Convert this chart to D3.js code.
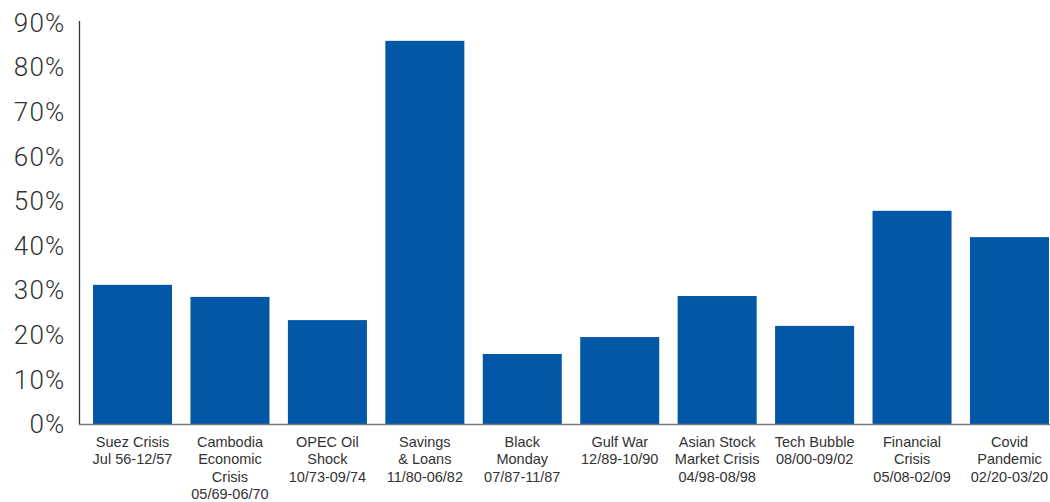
<!DOCTYPE html>
<html>
<head>
<meta charset="utf-8">
<script src="https://cdn.jsdelivr.net/npm/d3@7"></script>
<style>
  body { margin: 0; background: #fff; }
  svg { display: block; }
</style>
</head>
<body>
<svg id="chart" width="1050" height="502"></svg>
<script>
let categories = [
    ["Suez Crisis", "Jul 56-12/57"],
    ["Cambodia", "Economic", "Crisis", "05/69-06/70"],
    ["OPEC Oil", "Shock", "10/73-09/74"],
    ["Savings", "& Loans", "11/80-06/82"],
    ["Black", "Monday", "07/87-11/87"],
    ["Gulf War", "12/89-10/90"],
    ["Asian Stock", "Market Crisis", "04/98-08/98"],
    ["Tech Bubble", "08/00-09/02"],
    ["Financial", "Crisis", "05/08-02/09"],
    ["Covid", "Pandemic", "02/20-03/20"]
]
let values = [31.3, 28.6, 23.4, 86.0, 15.8, 19.6, 28.8, 22.1, 47.9, 42.0]
let yTicks = [0, 10, 20, 30, 40, 50, 60, 70, 80, 90]

let svg = d3.select("#chart")
let ids = categories.map((c, i) => i)

let x = d3.scaleBand()
    .domain(ids)
    .range([83.8, 1058.2])
    .paddingInner(0.189)
    .paddingOuter(0.0946)

let y = d3.scaleLinear()
    .domain([0, 90])
    .range([424.5, 23])

// bars
svg.selectAll("rect.bar")
    .data(values)
    .enter()
    .append("rect")
    .attr("class", "bar")
    .attr("fill", "#0257a6")
    .attr("x", (d, i) => x(i))
    .attr("width", x.bandwidth())
    .attr("y", d => y(d))
    .attr("height", d => y(0) - y(d))

// y axis
let yAxis = d3.axisLeft(y)
    .tickValues(yTicks)
    .tickSize(0)
    .tickPadding(14)
    .tickFormat(d => d + "%")

let yg = svg.append("g")
    .attr("transform", "translate(79.5, 0)")
    .call(yAxis)
yg.select(".domain")
    .attr("d", "M0,21V425")
    .attr("stroke", "#333")
    .attr("stroke-width", 1.3)
yg.selectAll("text")
    .attr("font-family", "Roboto, 'Liberation Sans', sans-serif")
    .attr("font-weight", 300)
    .attr("font-size", 26)
    .attr("letter-spacing", "1.2px")
    .attr("fill", "#333")

// x axis
let xAxis = d3.axisBottom(x).tickSize(0).tickFormat("")
let xg = svg.append("g")
    .attr("transform", "translate(0, 424.5)")
    .call(xAxis)
xg.select(".domain")
    .attr("d", "M79,0H1050")
    .attr("stroke", "#777")
    .attr("stroke-width", 1.3)

// category labels
let labels = svg.append("g")
    .selectAll("text")
    .data(categories)
    .enter()
    .append("text")
    .attr("x", (d, i) => x(i) + x.bandwidth() / 2)
    .attr("y", 447)
    .attr("text-anchor", "middle")
    .attr("font-family", "'Liberation Sans', Arial, sans-serif")
    .attr("font-size", 14.5)
    .attr("fill", "#333")

labels.selectAll("tspan")
    .data(d => d)
    .enter()
    .append("tspan")
    .attr("x", function () { return d3.select(this.parentNode).attr("x") })
    .attr("dy", (d, i) => i == 0 ? 0 : 17.3)
    .text(d => d)
</script>
</body>
</html>
